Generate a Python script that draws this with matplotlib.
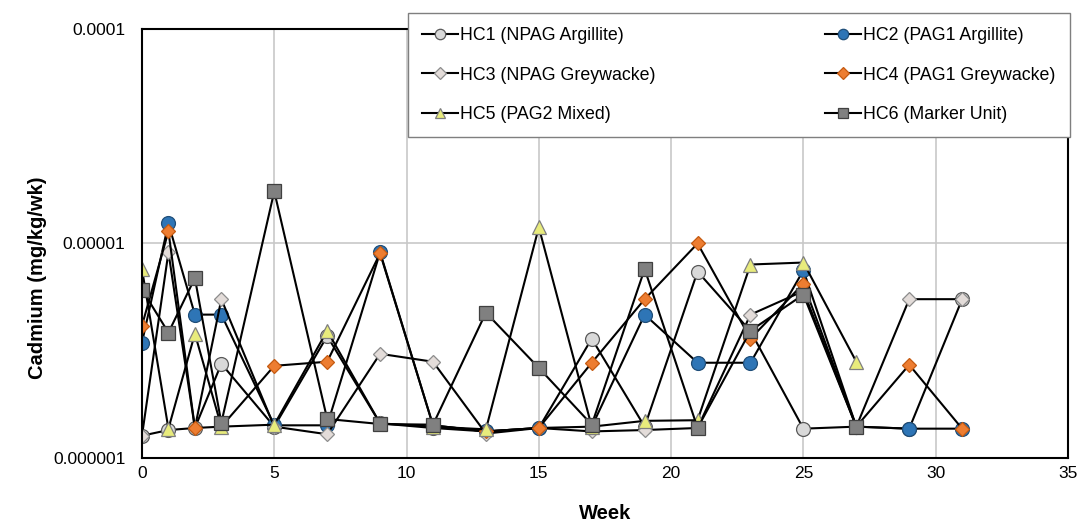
import matplotlib
matplotlib.use("Agg")
import matplotlib.pyplot as plt
import numpy as np

plt.rcParams['font.family'] = ['Liberation Sans', 'DejaVu Sans']

weeks = [0, 1, 2, 3, 5, 7, 9, 11, 13, 15, 17, 19, 21, 23, 25, 27, 29, 31]
weeks_short = [0, 1, 2, 3, 5, 7, 9, 11, 13, 15, 17, 19, 21, 23, 25, 27]

hc1 = [1.27e-6, 1.35e-6, 1.38e-6, 2.75e-6, 1.40e-6, 3.70e-6, 1.45e-6, 1.38e-6, 1.33e-6,
       1.38e-6, 3.60e-6, 1.40e-6, 7.40e-6, 3.90e-6, 1.37e-6, 1.40e-6, 1.37e-6, 5.50e-6]
hc2 = [3.45e-6, 1.24e-5, 4.66e-6, 4.66e-6, 1.42e-6, 1.42e-6, 9.10e-6, 1.42e-6, 1.33e-6,
       1.38e-6, 1.40e-6, 4.66e-6, 2.78e-6, 2.78e-6, 7.50e-6, 1.40e-6, 1.37e-6, 1.37e-6]
hc3 = [1.27e-6, 9.10e-6, 1.38e-6, 5.50e-6, 1.40e-6, 1.29e-6, 3.06e-6, 2.81e-6, 1.30e-6,
       1.38e-6, 1.33e-6, 1.35e-6, 1.38e-6, 4.66e-6, 6.00e-6, 1.40e-6, 5.50e-6, 5.50e-6]
hc4 = [4.14e-6, 1.14e-5, 1.38e-6, 1.40e-6, 2.69e-6, 2.81e-6, 9.00e-6, 1.42e-6, 1.33e-6,
       1.38e-6, 2.78e-6, 5.50e-6, 1.00e-5, 3.60e-6, 6.50e-6, 1.40e-6, 2.72e-6, 1.37e-6]
hc5 = [7.60e-6, 1.37e-6, 3.80e-6, 1.40e-6, 1.43e-6, 3.92e-6, 1.45e-6, 1.40e-6, 1.36e-6,
       1.19e-5, 1.40e-6, 1.49e-6, 1.50e-6, 7.98e-6, 8.15e-6, 2.81e-6]
hc6 = [6.10e-6, 3.84e-6, 6.90e-6, 1.46e-6, 1.75e-5, 1.52e-6, 1.44e-6, 1.43e-6, 4.76e-6,
       2.63e-6, 1.43e-6, 7.60e-6, 1.38e-6, 3.92e-6, 5.78e-6, 1.40e-6]

labels = ["HC1 (NPAG Argillite)", "HC2 (PAG1 Argillite)", "HC3 (NPAG Greywacke)",
          "HC4 (PAG1 Greywacke)", "HC5 (PAG2 Mixed)", "HC6 (Marker Unit)"]
y_ticks = [1e-6, 1e-5, 1e-4]
y_ticklabels = ["0.000001", "0.00001", "0.0001"]
x_ticks = [0, 5, 10, 15, 20, 25, 30, 35]

fig = plt.figure(figsize=(10.78, 5.23), dpi=100)
ax = fig.add_axes([0.1317, 0.1243, 0.859, 0.8203])

styles = [
    dict(marker='o', ms=10, mfc='#d9d9d9', mec='#595959'),
    dict(marker='o', ms=10, mfc='#2e75b6', mec='#1f4e79'),
    dict(marker='D', ms=7.5, mfc='#e3dcd9', mec='#8c8c8c'),
    dict(marker='D', ms=7.5, mfc='#ed7d31', mec='#c55a11'),
    dict(marker='^', ms=10, mfc='#e8eb7c', mec='#7f7f7f'),
    dict(marker='s', ms=9.5, mfc='#808080', mec='#404040'),
]
series = [(weeks, hc1), (weeks, hc2), (weeks, hc3), (weeks, hc4),
          (weeks_short, hc5), (weeks_short, hc6)]

for (xs, ys), lab, st in zip(series, labels, styles):
    ax.plot(xs, ys, color='black', lw=1.5, mew=0.9, label=lab, **st)

ax.set_yscale('log')
ax.set_ylim(1e-6, 1e-4)
ax.set_xlim(0, 35)
ax.yaxis.set_major_locator(matplotlib.ticker.FixedLocator(y_ticks))
ax.yaxis.set_minor_locator(matplotlib.ticker.NullLocator())
ax.set_yticks(y_ticks)
ax.set_yticklabels(y_ticklabels)
ax.set_xticks(x_ticks)
ax.tick_params(axis='both', length=0, labelsize=12.5, colors='black')
ax.tick_params(axis='y', pad=12)
ax.tick_params(axis='x', pad=6)
ax.grid(True, which='major', color='#c8c8c8', lw=1.2)
ax.set_axisbelow(True)
for sp in ax.spines.values():
    sp.set_color('black')
    sp.set_linewidth(1.5)

ax.set_xlabel("Week", fontsize=14.5, fontweight='bold', labelpad=16)
ax.set_ylabel("Cadmium (mg/kg/wk)", fontsize=14.5, fontweight='bold')
ax.yaxis.set_label_coords(-0.1025, 0.42)

handles, labs = ax.get_legend_handles_labels()
order = [0, 2, 4, 1, 3, 5]
leg = ax.legend([handles[i] for i in order], [labs[i] for i in order],
                ncol=2, loc='upper left', bbox_to_anchor=(0.287, 0.745, 0.715, 0.292),
                mode='expand', fontsize=12.8, frameon=True, fancybox=False,
                edgecolor='#7f7f7f', framealpha=1, borderaxespad=0,
                handlelength=2.0, handletextpad=0.15, labelspacing=1.25,
                borderpad=0.8, markerscale=0.75)
leg.get_frame().set_linewidth(1.0)
leg.set_zorder(10)

fig.savefig("out.png", dpi=100)
